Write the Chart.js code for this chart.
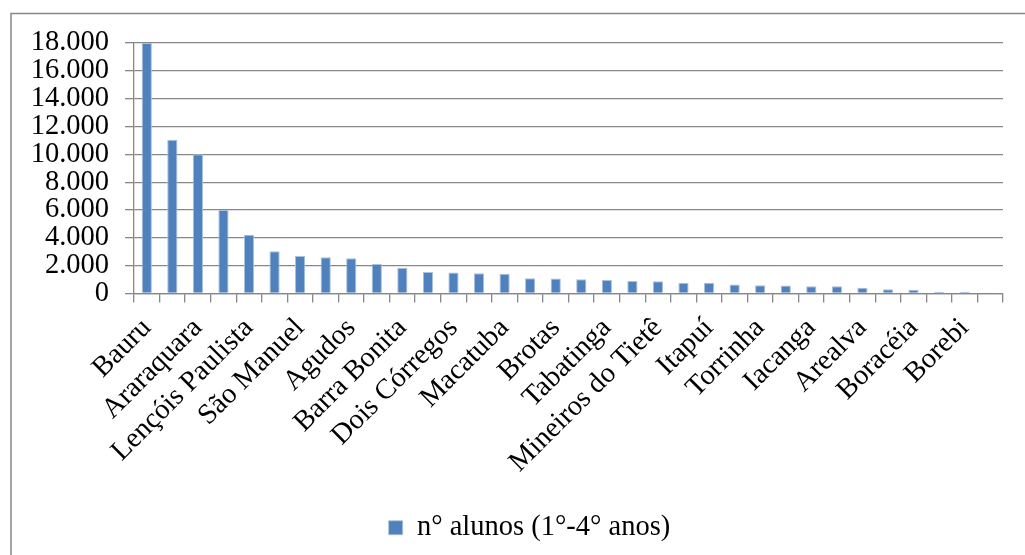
<!DOCTYPE html>
<html>
<head>
<meta charset="utf-8">
<script src="https://cdn.jsdelivr.net/npm/chart.js@4/dist/chart.umd.min.js"></script>
<style>
  html, body { margin: 0; padding: 0; background: #fff; }
  #wrap { width: 1025px; height: 555px; position: relative; }
</style>
</head>
<body>
<div id="wrap"><canvas id="c" width="1025" height="555"></canvas></div>
<script>
// Municípios (only every other one carries a visible label on the axis)
const municipios = [
  'Bauru', '', 'Araraquara', '', 'Lençóis Paulista', '', 'São Manuel', '',
  'Agudos', '', 'Barra Bonita', '', 'Dois Córregos', '', 'Macatuba', '',
  'Brotas', '', 'Tabatinga', '', 'Mineiros do Tietê', '', 'Itapuí', '',
  'Torrinha', '', 'Iacanga', '', 'Arealva', '', 'Boracéia', '', 'Borebi', ''
];

// Número de alunos do 1º ao 4º ano por município
const alunos = [
  18000, 11050, 10000, 6000, 4220, 3040, 2700, 2600,
  2530, 2120, 1850, 1540, 1510, 1460, 1420, 1100,
  1075, 1025, 975, 900, 880, 765, 765, 640,
  595, 570, 520, 520, 420, 300, 270, 125,
  120, 75
];

const serieNome = 'n° alunos (1°-4° anos)';
const yMax = 18000;
const yStep = 2000;

const GRAY = '#878787';
const FONT = '"Liberation Serif", "Times New Roman", serif';
const FONT_SIZE = 28.5;

// Outer frame of the chart object (left and top edges)
const framePlugin = {
  id: 'frame',
  beforeDraw(chart) {
    const ctx = chart.ctx;
    ctx.save();
    ctx.strokeStyle = GRAY;
    ctx.lineWidth = 1.5;
    ctx.beginPath();
    ctx.moveTo(11, 555);
    ctx.lineTo(11, 13.5);
    ctx.lineTo(1025, 13.5);
    ctx.stroke();
    ctx.restore();
  }
};

// Centre the legend under the whole chart object rather than the padded box
const legendShift = {
  id: 'legendShift',
  afterLayout(chart) {
    if (chart.legend) {
      chart.legend.left += 18;
      chart.legend.right += 18;
    }
  }
};

function milhar(v) {
  return String(v).replace(/\B(?=(\d{3})+(?!\d))/g, '.');
}

new Chart(document.getElementById('c'), {
  type: 'bar',
  data: {
    labels: municipios,
    datasets: [{
      label: serieNome,
      data: alunos,
      backgroundColor: '#4F81BD',
      borderColor: '#A9C0DE',
      borderWidth: { top: 1, left: 1, right: 1, bottom: 0 },
      barPercentage: 0.4,
      categoryPercentage: 1.0
    }]
  },
  options: {
    responsive: false,
    animation: false,
    devicePixelRatio: 1,
    layout: { padding: { left: 20, right: 22, top: 43, bottom: 3 } },
    plugins: {
      tooltip: { enabled: false },
      legend: {
        position: 'bottom',
        labels: {
          color: '#000',
          boxWidth: 14,
          boxHeight: 14,
          padding: 10,
          font: { family: FONT, size: FONT_SIZE }
        }
      }
    },
    scales: {
      x: {
        offset: true,
        grid: {
          display: true,
          offset: true,
          drawOnChartArea: false,
          drawTicks: true,
          tickLength: 9,
          color: GRAY,
          lineWidth: 1.3
        },
        border: { display: true, color: GRAY, width: 1.3 },
        ticks: {
          autoSkip: false,
          maxRotation: 45,
          minRotation: 45,
          padding: 9,
          color: '#000',
          font: { family: FONT, size: FONT_SIZE }
        },
        afterFit(scale) { scale.height = 210; }
      },
      y: {
        min: 0,
        max: yMax,
        ticks: {
          autoSkip: false,
          stepSize: yStep,
          padding: 16,
          color: '#000',
          font: { family: FONT, size: FONT_SIZE },
          callback: (v) => milhar(v)
        },
        grid: {
          color: GRAY,
          lineWidth: 1.3,
          tickLength: 9
        },
        border: { display: true, color: GRAY, width: 1.3 },
        afterFit(scale) { scale.width = 114; }
      }
    }
  },
  plugins: [framePlugin, legendShift]
});
</script>
</body>
</html>
